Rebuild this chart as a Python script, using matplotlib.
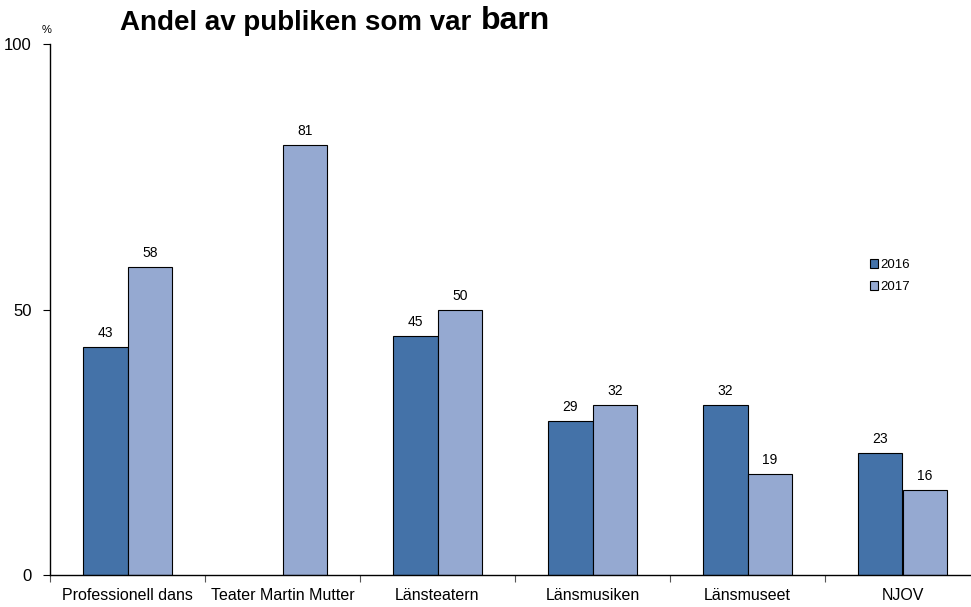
import matplotlib
matplotlib.use("Agg")
import matplotlib.pyplot as plt
import numpy as np

plt.rcParams['font.family'] = ['Liberation Sans', 'DejaVu Sans']

categories = ["Professionell dans", "Teater Martin Mutter", "Länsteatern",
              "Länsmusiken", "Länsmuseet", "NJOV"]
years = ["2016", "2017"]
values_2016 = [43, None, 45, 29, 32, 23]
values_2017 = [58, 81, 50, 32, 19, 16]
yticks = [0, 50, 100]
colors = ["#4472A8", "#95A9D1"]

W, H = 971, 607
fig = plt.figure(figsize=(W / 100, H / 100), dpi=100)
left, right, top, bottom = 50, 980, 44, 575
ax = fig.add_axes([left / W, 1 - bottom / H, (right - left) / W, (bottom - top) / H])

x = np.arange(len(categories))
bw = 0.287
for i, (vals, c, lab) in enumerate(zip([values_2016, values_2017], colors, years)):
    xs = [xi + (i - 0.5) * bw for xi, v in zip(x, vals) if v is not None]
    vs = [v for v in vals if v is not None]
    bars = ax.bar(xs, vs, width=bw, color=c, edgecolor="black", linewidth=0.8, label=lab)
    for b, v in zip(bars, vs):
        ax.text(b.get_x() + b.get_width() / 2, v + 1.3, str(v), ha="center", va="bottom", fontsize=10)

ax.set_xlim(-0.5, len(categories) - 0.5)
ax.set_ylim(0, 100)
ax.set_yticks(yticks)
ax.set_yticklabels([str(t) for t in yticks], fontsize=12)
ax.set_xticks(np.arange(len(categories) + 1) - 0.5)
ax.set_xticklabels([])
ax.set_xticks(x, minor=True)
ax.set_xticklabels(categories, minor=True, fontsize=11.5)
ax.tick_params(axis="x", which="minor", length=0, pad=9)
ax.tick_params(axis="x", which="major", length=5, direction="out", color="#555555")
ax.tick_params(axis="y", length=5, direction="out", pad=8)
for s in ["top", "right"]:
    ax.spines[s].set_visible(False)
ax.spines["left"].set_linewidth(1.0)
ax.spines["bottom"].set_linewidth(1.0)
ax.spines["bottom"].set_bounds(-0.5, 5.45)

fig.text(47 / W, 1 - 30 / H, "%", fontsize=8, ha="center", va="center")
fig.text(120 / W, 1 - 23 / H, "Andel av publiken som var", fontsize=20, fontweight="bold",
         ha="left", va="center")
fig.text(481 / W, 1 - 21 / H, "barn", fontsize=23, fontweight="bold", ha="left", va="center")

leg = ax.legend(loc="upper left", bbox_to_anchor=((865 - 50) / 930, 1 - (254 - 44) / 531),
                frameon=False, fontsize=9.5, handlelength=0.6, handleheight=0.6,
                handletextpad=0.15, labelspacing=0.75, borderaxespad=0)

fig.savefig("out.png", dpi=100)
